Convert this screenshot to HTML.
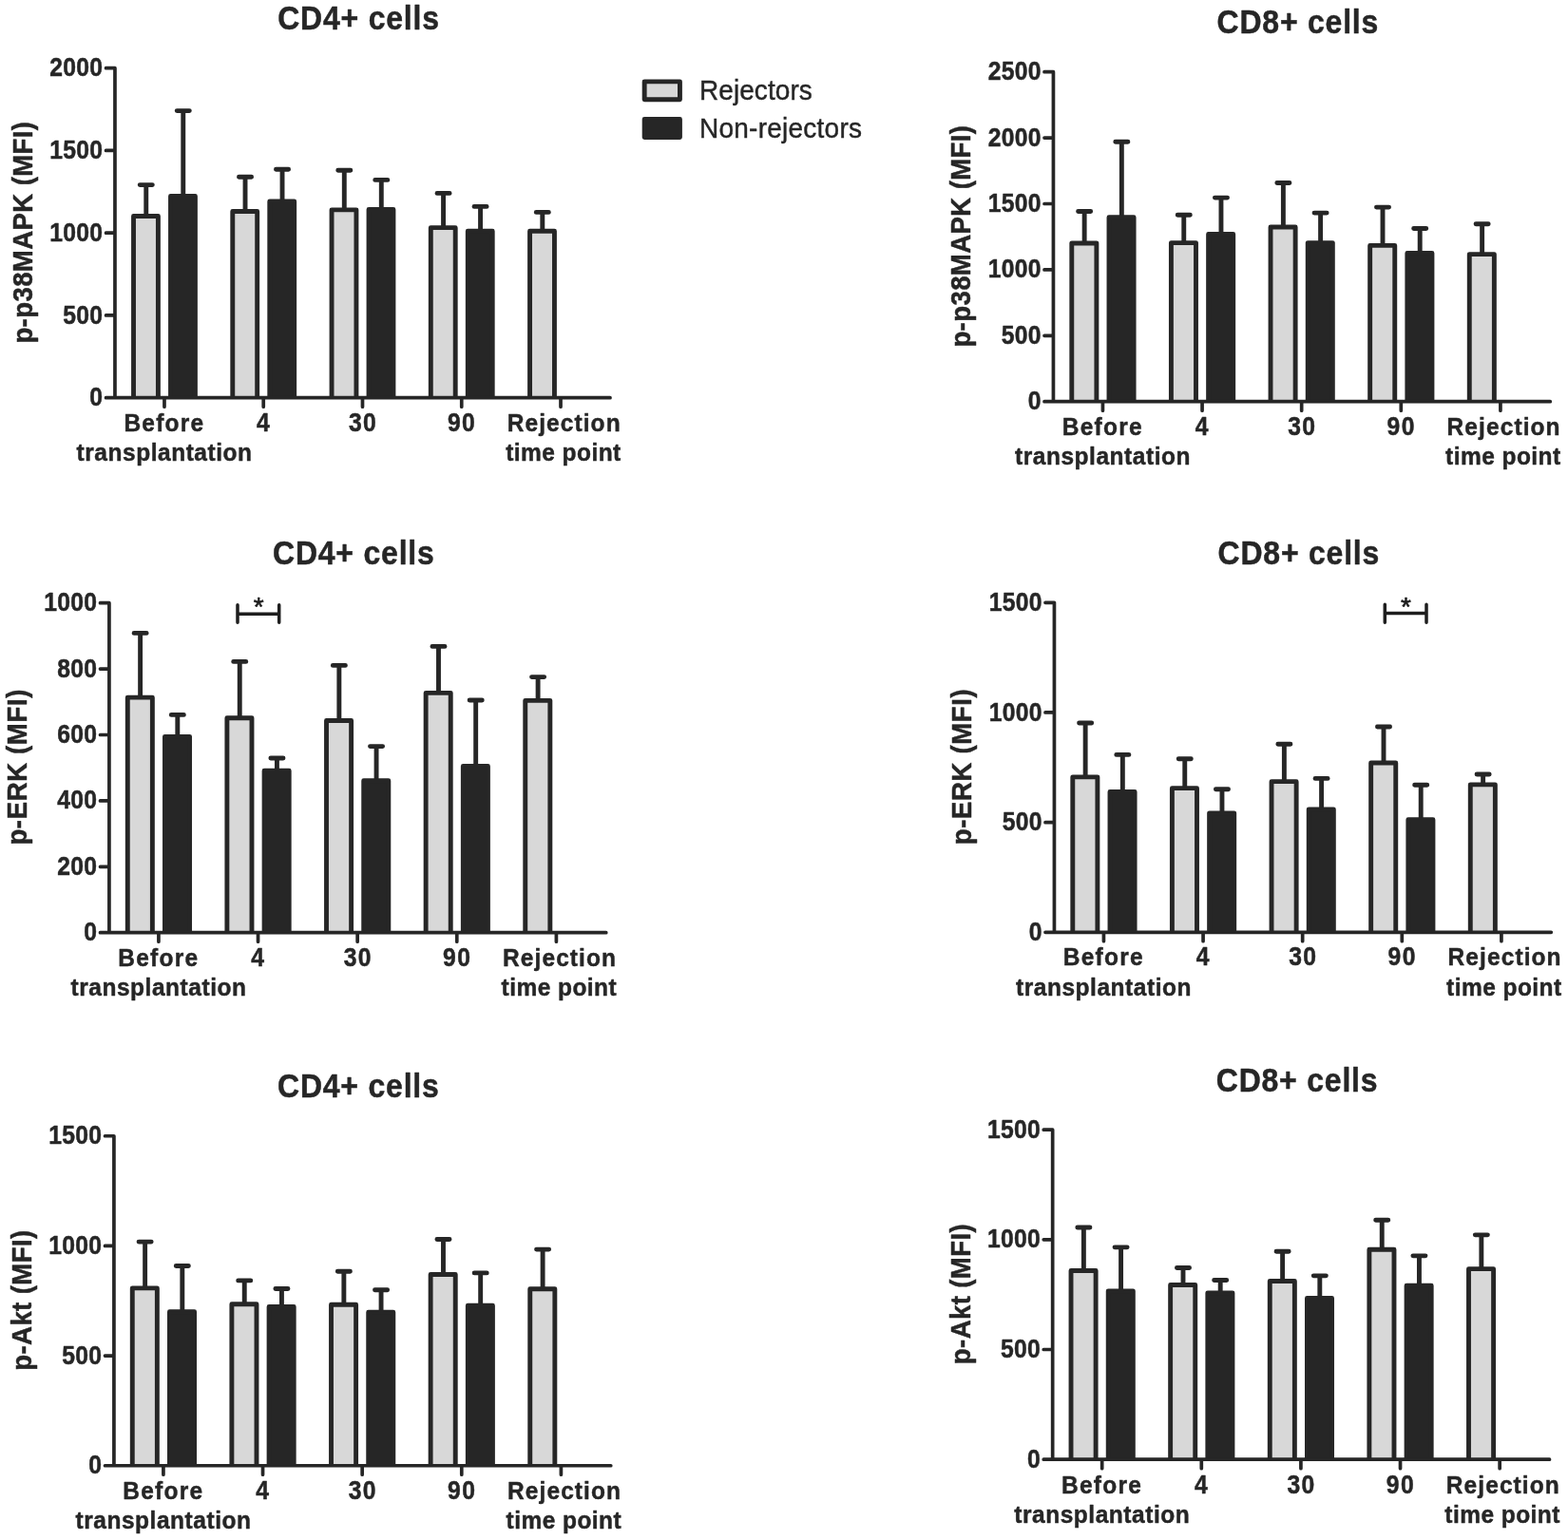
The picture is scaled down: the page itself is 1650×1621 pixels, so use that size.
<!DOCTYPE html>
<html lang="en">
<head>
<meta charset="utf-8">
<title>MAPK and Akt phosphorylation in CD4+ and CD8+ cells</title>
<style>
html,body{margin:0;padding:0;background:#fff;}
body{width:1650px;height:1621px;overflow:hidden;}
svg{display:block;}
text{font-family:'Liberation Sans', sans-serif;fill:#262626;font-kerning:none;font-variant-ligatures:none;white-space:pre;}
.t,.yl,.yt,.xt{stroke:#262626;stroke-width:0.45px;stroke-linejoin:round;}
.t{font-weight:bold;}
.yl{font-weight:bold;}
.yt{font-weight:bold;}
.xt{font-weight:bold;}
.lg{stroke:#262626;stroke-width:0.4px;}
.st{font-size:28px;text-anchor:middle;fill:#1c1c1c;stroke:#1c1c1c;stroke-width:0.6px;stroke-linejoin:round;}
.a{fill:none;stroke:#262626;stroke-width:3.7;stroke-linecap:round;stroke-linejoin:round;}
.b{stroke:#262626;stroke-width:4.9;stroke-linejoin:round;}
.e{fill:none;stroke:#262626;stroke-width:4.9;stroke-linecap:round;}
.br{fill:none;stroke:#1e1e1e;stroke-width:3.5;stroke-linecap:round;}
</style>
</head>
<body>
<svg width="1650" height="1621" viewBox="0 0 1650 1621">
<rect width="1650" height="1621" fill="#ffffff"/>
<g id="c1">
<text class="t" font-size="32" transform="translate(292.16 31.29) scale(1 1.075)" style="letter-spacing:0.78px">CD4+ cells</text>
<text class="yl" font-size="27.6" transform="translate(33.97 361.62) rotate(-90) scale(1 1.1)" style="letter-spacing:0.38px">p-p38MAPK (MFI)</text>
<path class="e" d="M153.77 227V194.6M147.22 194.6H160.32"/>
<path class="b" d="M140.52 418.69V227.45H166.42V418.69" fill="#d8d8d8"/>
<path class="e" d="M192.77 206V116.6M186.22 116.6H199.32"/>
<path class="b" d="M179.52 418.69V206.45H205.42V418.69" fill="#262626"/>
<path class="e" d="M258.03 222V186.2M251.48 186.2H264.58"/>
<path class="b" d="M244.78 418.69V222.45H270.68V418.69" fill="#d8d8d8"/>
<path class="e" d="M297.03 211.6V178.2M290.48 178.2H303.58"/>
<path class="b" d="M283.78 418.69V212.05H309.68V418.69" fill="#262626"/>
<path class="e" d="M362.29 220.4V179.2M355.74 179.2H368.84"/>
<path class="b" d="M349.04 418.69V220.85H374.94V418.69" fill="#d8d8d8"/>
<path class="e" d="M401.29 220V189.4M394.74 189.4H407.84"/>
<path class="b" d="M388.04 418.69V220.45H413.94V418.69" fill="#262626"/>
<path class="e" d="M466.55 239.2V203.4M460 203.4H473.1"/>
<path class="b" d="M453.3 418.69V239.65H479.2V418.69" fill="#d8d8d8"/>
<path class="e" d="M505.55 242.8V217.4M499 217.4H512.1"/>
<path class="b" d="M492.3 418.69V243.25H518.2V418.69" fill="#262626"/>
<path class="e" d="M570.81 242.8V223.4M564.26 223.4H577.36"/>
<path class="b" d="M557.56 418.69V243.25H583.46V418.69" fill="#d8d8d8"/>
<path class="a" d="M120.97 71.69V418.69M111.52 418.69H642.02M111.52 331.94H120.97M111.52 245.19H120.97M111.52 158.44H120.97M111.52 71.69H120.97M172.97 418.69V428.14M277.23 418.69V428.14M381.49 418.69V428.14M485.75 418.69V428.14M590.01 418.69V428.14"/>
<text class="yt" font-size="24.7" transform="translate(94.3 427.29) scale(1 1.1)" style="letter-spacing:0.3px">0</text>
<text class="yt" font-size="24.7" transform="translate(66.22 340.54) scale(1 1.1)" style="letter-spacing:0.3px">500</text>
<text class="yt" font-size="24.7" transform="translate(52.19 253.79) scale(1 1.1)" style="letter-spacing:0.3px">1000</text>
<text class="yt" font-size="24.7" transform="translate(52.19 167.04) scale(1 1.1)" style="letter-spacing:0.3px">1500</text>
<text class="yt" font-size="24.7" transform="translate(52.19 80.29) scale(1 1.1)" style="letter-spacing:0.3px">2000</text>
<text class="xt" font-size="24.5" transform="translate(130.38 453.84) scale(1 1.04)" style="letter-spacing:1.22px">Before</text>
<text class="xt" font-size="24.5" transform="translate(80.57 484.99) scale(1 1.02)" style="letter-spacing:0.54px">transplantation</text>
<text class="xt" font-size="24.7" transform="translate(269.96 453.84) scale(1 1.11)">4</text>
<text class="xt" font-size="24.7" transform="translate(367.12 453.84) scale(1 1.11)" style="letter-spacing:1.21px">30</text>
<text class="xt" font-size="24.7" transform="translate(470.89 453.84) scale(1 1.11)" style="letter-spacing:1.5px">90</text>
<text class="xt" font-size="24.5" transform="translate(533.67 453.84) scale(1 1.04)" style="letter-spacing:1.09px">Rejection</text>
<text class="xt" font-size="24.5" transform="translate(532.21 484.99) scale(1 1.02)" style="letter-spacing:0.45px">time point</text>
</g>
<g id="c2">
<text class="t" font-size="32" transform="translate(1280.53 35.29) scale(1 1.075)" style="letter-spacing:0.78px">CD8+ cells</text>
<text class="yl" font-size="27.6" transform="translate(1021.44 365.62) rotate(-90) scale(1 1.1)" style="letter-spacing:0.38px">p-p38MAPK (MFI)</text>
<path class="e" d="M1141.14 255.55V222.5M1134.59 222.5H1147.69"/>
<path class="b" d="M1127.79 422.69V256H1153.89V422.69" fill="#d8d8d8"/>
<path class="e" d="M1180.34 228.35V149.3M1173.79 149.3H1186.89"/>
<path class="b" d="M1166.99 422.69V228.8H1193.09V422.69" fill="#262626"/>
<path class="e" d="M1245.76 255.15V226.3M1239.21 226.3H1252.31"/>
<path class="b" d="M1232.41 422.69V255.6H1258.51V422.69" fill="#d8d8d8"/>
<path class="e" d="M1284.96 245.95V208.1M1278.41 208.1H1291.51"/>
<path class="b" d="M1271.61 422.69V246.4H1297.71V422.69" fill="#262626"/>
<path class="e" d="M1350.38 238.55V192.5M1343.83 192.5H1356.93"/>
<path class="b" d="M1337.03 422.69V239H1363.13V422.69" fill="#d8d8d8"/>
<path class="e" d="M1389.58 255.15V224.1M1383.03 224.1H1396.13"/>
<path class="b" d="M1376.23 422.69V255.6H1402.33V422.69" fill="#262626"/>
<path class="e" d="M1455 257.95V218.1M1448.45 218.1H1461.55"/>
<path class="b" d="M1441.65 422.69V258.4H1467.75V422.69" fill="#d8d8d8"/>
<path class="e" d="M1494.2 265.95V240.5M1487.65 240.5H1500.75"/>
<path class="b" d="M1480.85 422.69V266.4H1506.95V422.69" fill="#262626"/>
<path class="e" d="M1559.62 267.15V235.7M1553.07 235.7H1566.17"/>
<path class="b" d="M1546.27 422.69V267.6H1572.37V422.69" fill="#d8d8d8"/>
<path class="a" d="M1108.44 75.69V422.69M1098.99 422.69H1631.29M1098.99 353.29H1108.44M1098.99 283.89H1108.44M1098.99 214.49H1108.44M1098.99 145.09H1108.44M1098.99 75.69H1108.44M1160.44 422.69V432.14M1265.06 422.69V432.14M1369.68 422.69V432.14M1474.3 422.69V432.14M1578.92 422.69V432.14"/>
<text class="yt" font-size="24.7" transform="translate(1081.77 431.29) scale(1 1.1)" style="letter-spacing:0.3px">0</text>
<text class="yt" font-size="24.7" transform="translate(1053.69 361.89) scale(1 1.1)" style="letter-spacing:0.3px">500</text>
<text class="yt" font-size="24.7" transform="translate(1039.66 292.49) scale(1 1.1)" style="letter-spacing:0.3px">1000</text>
<text class="yt" font-size="24.7" transform="translate(1039.66 223.09) scale(1 1.1)" style="letter-spacing:0.3px">1500</text>
<text class="yt" font-size="24.7" transform="translate(1039.66 153.69) scale(1 1.1)" style="letter-spacing:0.3px">2000</text>
<text class="yt" font-size="24.7" transform="translate(1039.66 84.29) scale(1 1.1)" style="letter-spacing:0.3px">2500</text>
<text class="xt" font-size="24.5" transform="translate(1117.85 458.14) scale(1 1.04)" style="letter-spacing:1.22px">Before</text>
<text class="xt" font-size="24.5" transform="translate(1068.04 489.29) scale(1 1.02)" style="letter-spacing:0.54px">transplantation</text>
<text class="xt" font-size="24.7" transform="translate(1257.79 458.14) scale(1 1.11)">4</text>
<text class="xt" font-size="24.7" transform="translate(1355.31 458.14) scale(1 1.11)" style="letter-spacing:1.21px">30</text>
<text class="xt" font-size="24.7" transform="translate(1459.44 458.14) scale(1 1.11)" style="letter-spacing:1.5px">90</text>
<text class="xt" font-size="24.5" transform="translate(1522.58 458.14) scale(1 1.04)" style="letter-spacing:1.09px">Rejection</text>
<text class="xt" font-size="24.5" transform="translate(1521.12 489.29) scale(1 1.02)" style="letter-spacing:0.45px">time point</text>
</g>
<g id="c3">
<text class="t" font-size="32" transform="translate(287.01 594.29) scale(1 1.075)" style="letter-spacing:0.78px">CD4+ cells</text>
<text class="yl" font-size="27.6" transform="translate(27.92 889.61) rotate(-90) scale(1 1.1)" style="letter-spacing:0.62px">p-ERK (MFI)</text>
<path class="e" d="M147.62 733.7V666.4M141.07 666.4H154.17"/>
<path class="b" d="M134.27 981.69V734.15H160.37V981.69" fill="#d8d8d8"/>
<path class="e" d="M186.82 774.9V752.4M180.27 752.4H193.37"/>
<path class="b" d="M173.47 981.69V775.35H199.57V981.69" fill="#262626"/>
<path class="e" d="M252.24 755.3V696.4M245.69 696.4H258.79"/>
<path class="b" d="M238.89 981.69V755.75H264.99V981.69" fill="#d8d8d8"/>
<path class="e" d="M291.44 810.7V798M284.89 798H297.99"/>
<path class="b" d="M278.09 981.69V811.15H304.19V981.69" fill="#262626"/>
<path class="e" d="M356.86 758.1V700.4M350.31 700.4H363.41"/>
<path class="b" d="M343.51 981.69V758.55H369.61V981.69" fill="#d8d8d8"/>
<path class="e" d="M396.06 821.3V785.6M389.51 785.6H402.61"/>
<path class="b" d="M382.71 981.69V821.75H408.81V981.69" fill="#262626"/>
<path class="e" d="M461.48 728.9V680.4M454.93 680.4H468.03"/>
<path class="b" d="M448.13 981.69V729.35H474.23V981.69" fill="#d8d8d8"/>
<path class="e" d="M500.68 806.1V737M494.13 737H507.23"/>
<path class="b" d="M487.33 981.69V806.55H513.43V981.69" fill="#262626"/>
<path class="e" d="M566.1 736.9V712.6M559.55 712.6H572.65"/>
<path class="b" d="M552.75 981.69V737.35H578.85V981.69" fill="#d8d8d8"/>
<path class="a" d="M114.92 634.69V981.69M105.47 981.69H637.77M105.47 912.29H114.92M105.47 842.89H114.92M105.47 773.49H114.92M105.47 704.09H114.92M105.47 634.69H114.92M166.92 981.69V991.14M271.54 981.69V991.14M376.16 981.69V991.14M480.78 981.69V991.14M585.4 981.69V991.14"/>
<text class="yt" font-size="24.7" transform="translate(88.25 990.29) scale(1 1.1)" style="letter-spacing:0.3px">0</text>
<text class="yt" font-size="24.7" transform="translate(60.17 920.89) scale(1 1.1)" style="letter-spacing:0.3px">200</text>
<text class="yt" font-size="24.7" transform="translate(60.17 851.49) scale(1 1.1)" style="letter-spacing:0.3px">400</text>
<text class="yt" font-size="24.7" transform="translate(60.17 782.09) scale(1 1.1)" style="letter-spacing:0.3px">600</text>
<text class="yt" font-size="24.7" transform="translate(60.17 712.69) scale(1 1.1)" style="letter-spacing:0.3px">800</text>
<text class="yt" font-size="24.7" transform="translate(46.14 643.29) scale(1 1.1)" style="letter-spacing:0.3px">1000</text>
<text class="xt" font-size="24.5" transform="translate(124.33 1016.84) scale(1 1.04)" style="letter-spacing:1.22px">Before</text>
<text class="xt" font-size="24.5" transform="translate(74.52 1047.99) scale(1 1.02)" style="letter-spacing:0.54px">transplantation</text>
<text class="xt" font-size="24.7" transform="translate(264.27 1016.84) scale(1 1.11)">4</text>
<text class="xt" font-size="24.7" transform="translate(361.79 1016.84) scale(1 1.11)" style="letter-spacing:1.21px">30</text>
<text class="xt" font-size="24.7" transform="translate(465.92 1016.84) scale(1 1.11)" style="letter-spacing:1.5px">90</text>
<text class="xt" font-size="24.5" transform="translate(529.06 1016.84) scale(1 1.04)" style="letter-spacing:1.09px">Rejection</text>
<text class="xt" font-size="24.5" transform="translate(527.6 1047.99) scale(1 1.02)" style="letter-spacing:0.45px">time point</text>
<path class="br" d="M250 636.65V655.35M293.7 636.65V655.35M250 646.2H293.7"/>
<text class="st" x="272.15" y="647.95">*</text>
</g>
<g id="c4">
<text class="t" font-size="32" transform="translate(1281.53 593.9) scale(1 1.075)" style="letter-spacing:0.78px">CD8+ cells</text>
<text class="yl" font-size="27.6" transform="translate(1022.44 889.22) rotate(-90) scale(1 1.1)" style="letter-spacing:0.62px">p-ERK (MFI)</text>
<path class="e" d="M1142.14 817.4V761M1135.59 761H1148.69"/>
<path class="b" d="M1128.79 981.3V817.85H1154.89V981.3" fill="#d8d8d8"/>
<path class="e" d="M1181.34 833V794.4M1174.79 794.4H1187.89"/>
<path class="b" d="M1167.99 981.3V833.45H1194.09V981.3" fill="#262626"/>
<path class="e" d="M1246.76 829.2V798.8M1240.21 798.8H1253.31"/>
<path class="b" d="M1233.41 981.3V829.65H1259.51V981.3" fill="#d8d8d8"/>
<path class="e" d="M1285.96 855.4V830.8M1279.41 830.8H1292.51"/>
<path class="b" d="M1272.61 981.3V855.85H1298.71V981.3" fill="#262626"/>
<path class="e" d="M1351.38 822.2V783.2M1344.83 783.2H1357.93"/>
<path class="b" d="M1338.03 981.3V822.65H1364.13V981.3" fill="#d8d8d8"/>
<path class="e" d="M1390.58 851.4V819.4M1384.03 819.4H1397.13"/>
<path class="b" d="M1377.23 981.3V851.85H1403.33V981.3" fill="#262626"/>
<path class="e" d="M1456 802.6V765M1449.45 765H1462.55"/>
<path class="b" d="M1442.65 981.3V803.05H1468.75V981.3" fill="#d8d8d8"/>
<path class="e" d="M1495.2 862.2V826.2M1488.65 826.2H1501.75"/>
<path class="b" d="M1481.85 981.3V862.65H1507.95V981.3" fill="#262626"/>
<path class="e" d="M1560.62 825.4V815M1554.07 815H1567.17"/>
<path class="b" d="M1547.27 981.3V825.85H1573.37V981.3" fill="#d8d8d8"/>
<path class="a" d="M1109.44 634.3V981.3M1099.99 981.3H1632.29M1099.99 865.63H1109.44M1099.99 749.97H1109.44M1099.99 634.3H1109.44M1161.44 981.3V990.75M1266.06 981.3V990.75M1370.68 981.3V990.75M1475.3 981.3V990.75M1579.92 981.3V990.75"/>
<text class="yt" font-size="24.7" transform="translate(1082.77 989.9) scale(1 1.1)" style="letter-spacing:0.3px">0</text>
<text class="yt" font-size="24.7" transform="translate(1054.69 874.23) scale(1 1.1)" style="letter-spacing:0.3px">500</text>
<text class="yt" font-size="24.7" transform="translate(1040.66 758.57) scale(1 1.1)" style="letter-spacing:0.3px">1000</text>
<text class="yt" font-size="24.7" transform="translate(1040.66 642.9) scale(1 1.1)" style="letter-spacing:0.3px">1500</text>
<text class="xt" font-size="24.5" transform="translate(1118.85 1016.45) scale(1 1.04)" style="letter-spacing:1.22px">Before</text>
<text class="xt" font-size="24.5" transform="translate(1069.04 1047.6) scale(1 1.02)" style="letter-spacing:0.54px">transplantation</text>
<text class="xt" font-size="24.7" transform="translate(1258.79 1016.45) scale(1 1.11)">4</text>
<text class="xt" font-size="24.7" transform="translate(1356.31 1016.45) scale(1 1.11)" style="letter-spacing:1.21px">30</text>
<text class="xt" font-size="24.7" transform="translate(1460.44 1016.45) scale(1 1.11)" style="letter-spacing:1.5px">90</text>
<text class="xt" font-size="24.5" transform="translate(1523.58 1016.45) scale(1 1.04)" style="letter-spacing:1.09px">Rejection</text>
<text class="xt" font-size="24.5" transform="translate(1522.12 1047.6) scale(1 1.02)" style="letter-spacing:0.45px">time point</text>
<path class="br" d="M1457.3 636.15V655.15M1501 636.15V655.15M1457.3 645.6H1501"/>
<text class="st" x="1479.55" y="647.55">*</text>
</g>
<g id="c5">
<text class="t" font-size="32" transform="translate(292.01 1155.35) scale(1 1.075)" style="letter-spacing:0.78px">CD4+ cells</text>
<text class="yl" font-size="27.6" transform="translate(32.92 1442.72) rotate(-90) scale(1 1.1)" style="letter-spacing:0.38px">p-Akt (MFI)</text>
<path class="e" d="M152.62 1355.45V1307.1M146.07 1307.1H159.17"/>
<path class="b" d="M139.27 1542.75V1355.9H165.37V1542.75" fill="#d8d8d8"/>
<path class="e" d="M191.82 1380.25V1332.5M185.27 1332.5H198.37"/>
<path class="b" d="M178.47 1542.75V1380.7H204.57V1542.75" fill="#262626"/>
<path class="e" d="M257.24 1372.25V1347.9M250.69 1347.9H263.79"/>
<path class="b" d="M243.89 1542.75V1372.7H269.99V1542.75" fill="#d8d8d8"/>
<path class="e" d="M296.44 1375.05V1356.5M289.89 1356.5H302.99"/>
<path class="b" d="M283.09 1542.75V1375.5H309.19V1542.75" fill="#262626"/>
<path class="e" d="M361.86 1372.85V1338.3M355.31 1338.3H368.41"/>
<path class="b" d="M348.51 1542.75V1373.3H374.61V1542.75" fill="#d8d8d8"/>
<path class="e" d="M401.06 1380.85V1357.7M394.51 1357.7H407.61"/>
<path class="b" d="M387.71 1542.75V1381.3H413.81V1542.75" fill="#262626"/>
<path class="e" d="M466.48 1341.05V1304.5M459.93 1304.5H473.03"/>
<path class="b" d="M453.13 1542.75V1341.5H479.23V1542.75" fill="#d8d8d8"/>
<path class="e" d="M505.68 1373.85V1339.9M499.13 1339.9H512.23"/>
<path class="b" d="M492.33 1542.75V1374.3H518.43V1542.75" fill="#262626"/>
<path class="e" d="M571.1 1356.25V1315.1M564.55 1315.1H577.65"/>
<path class="b" d="M557.75 1542.75V1356.7H583.85V1542.75" fill="#d8d8d8"/>
<path class="a" d="M119.92 1195.75V1542.75M110.47 1542.75H642.77M110.47 1427.08H119.92M110.47 1311.42H119.92M110.47 1195.75H119.92M171.92 1542.75V1552.2M276.54 1542.75V1552.2M381.16 1542.75V1552.2M485.78 1542.75V1552.2M590.4 1542.75V1552.2"/>
<text class="yt" font-size="24.7" transform="translate(93.25 1551.35) scale(1 1.1)" style="letter-spacing:0.3px">0</text>
<text class="yt" font-size="24.7" transform="translate(65.17 1435.68) scale(1 1.1)" style="letter-spacing:0.3px">500</text>
<text class="yt" font-size="24.7" transform="translate(51.14 1320.02) scale(1 1.1)" style="letter-spacing:0.3px">1000</text>
<text class="yt" font-size="24.7" transform="translate(51.14 1204.35) scale(1 1.1)" style="letter-spacing:0.3px">1500</text>
<text class="xt" font-size="24.5" transform="translate(129.33 1577.9) scale(1 1.04)" style="letter-spacing:1.22px">Before</text>
<text class="xt" font-size="24.5" transform="translate(79.52 1609.05) scale(1 1.02)" style="letter-spacing:0.54px">transplantation</text>
<text class="xt" font-size="24.7" transform="translate(269.27 1577.9) scale(1 1.11)">4</text>
<text class="xt" font-size="24.7" transform="translate(366.79 1577.9) scale(1 1.11)" style="letter-spacing:1.21px">30</text>
<text class="xt" font-size="24.7" transform="translate(470.92 1577.9) scale(1 1.11)" style="letter-spacing:1.5px">90</text>
<text class="xt" font-size="24.5" transform="translate(534.06 1577.9) scale(1 1.04)" style="letter-spacing:1.09px">Rejection</text>
<text class="xt" font-size="24.5" transform="translate(532.6 1609.05) scale(1 1.02)" style="letter-spacing:0.45px">time point</text>
</g>
<g id="c6">
<text class="t" font-size="32" transform="translate(1279.76 1148.79) scale(1 1.075)" style="letter-spacing:0.78px">CD8+ cells</text>
<text class="yl" font-size="27.6" transform="translate(1020.67 1436.16) rotate(-90) scale(1 1.1)" style="letter-spacing:0.38px">p-Akt (MFI)</text>
<path class="e" d="M1140.37 1337V1292.05M1133.82 1292.05H1146.92"/>
<path class="b" d="M1127.02 1536.19V1337.45H1153.12V1536.19" fill="#d8d8d8"/>
<path class="e" d="M1179.57 1358.4V1312.85M1173.02 1312.85H1186.12"/>
<path class="b" d="M1166.22 1536.19V1358.85H1192.32V1536.19" fill="#262626"/>
<path class="e" d="M1244.99 1352V1334.45M1238.44 1334.45H1251.54"/>
<path class="b" d="M1231.64 1536.19V1352.45H1257.74V1536.19" fill="#d8d8d8"/>
<path class="e" d="M1284.19 1360.4V1347.45M1277.64 1347.45H1290.74"/>
<path class="b" d="M1270.84 1536.19V1360.85H1296.94V1536.19" fill="#262626"/>
<path class="e" d="M1349.61 1348V1317.25M1343.06 1317.25H1356.16"/>
<path class="b" d="M1336.26 1536.19V1348.45H1362.36V1536.19" fill="#d8d8d8"/>
<path class="e" d="M1388.81 1366V1342.85M1382.26 1342.85H1395.36"/>
<path class="b" d="M1375.46 1536.19V1366.45H1401.56V1536.19" fill="#262626"/>
<path class="e" d="M1454.23 1314.8V1284.25M1447.68 1284.25H1460.78"/>
<path class="b" d="M1440.88 1536.19V1315.25H1466.98V1536.19" fill="#d8d8d8"/>
<path class="e" d="M1493.43 1352.8V1321.85M1486.88 1321.85H1499.98"/>
<path class="b" d="M1480.08 1536.19V1353.25H1506.18V1536.19" fill="#262626"/>
<path class="e" d="M1558.85 1335.2V1299.85M1552.3 1299.85H1565.4"/>
<path class="b" d="M1545.5 1536.19V1335.65H1571.6V1536.19" fill="#d8d8d8"/>
<path class="a" d="M1107.67 1189.19V1536.19M1098.22 1536.19H1630.52M1098.22 1420.52H1107.67M1098.22 1304.86H1107.67M1098.22 1189.19H1107.67M1159.67 1536.19V1545.64M1264.29 1536.19V1545.64M1368.91 1536.19V1545.64M1473.53 1536.19V1545.64M1578.15 1536.19V1545.64"/>
<text class="yt" font-size="24.7" transform="translate(1081 1544.79) scale(1 1.1)" style="letter-spacing:0.3px">0</text>
<text class="yt" font-size="24.7" transform="translate(1052.92 1429.12) scale(1 1.1)" style="letter-spacing:0.3px">500</text>
<text class="yt" font-size="24.7" transform="translate(1038.89 1313.46) scale(1 1.1)" style="letter-spacing:0.3px">1000</text>
<text class="yt" font-size="24.7" transform="translate(1038.89 1197.79) scale(1 1.1)" style="letter-spacing:0.3px">1500</text>
<text class="xt" font-size="24.5" transform="translate(1117.08 1571.64) scale(1 1.04)" style="letter-spacing:1.22px">Before</text>
<text class="xt" font-size="24.5" transform="translate(1067.27 1602.79) scale(1 1.02)" style="letter-spacing:0.54px">transplantation</text>
<text class="xt" font-size="24.7" transform="translate(1257.02 1571.64) scale(1 1.11)">4</text>
<text class="xt" font-size="24.7" transform="translate(1354.54 1571.64) scale(1 1.11)" style="letter-spacing:1.21px">30</text>
<text class="xt" font-size="24.7" transform="translate(1458.67 1571.64) scale(1 1.11)" style="letter-spacing:1.5px">90</text>
<text class="xt" font-size="24.5" transform="translate(1521.81 1571.64) scale(1 1.04)" style="letter-spacing:1.09px">Rejection</text>
<text class="xt" font-size="24.5" transform="translate(1520.35 1602.79) scale(1 1.02)" style="letter-spacing:0.45px">time point</text>
</g>
<g id="legend">
<rect class="b" x="678.15" y="85.85" width="37.3" height="18.9" fill="#d8d8d8" style="stroke-width:4.9"/>
<rect class="b" x="678.15" y="125.55" width="37.3" height="18.9" fill="#262626" style="stroke-width:4.9"/>
<text class="lg" font-size="28" transform="translate(736 104.7) scale(1 1.035)" style="letter-spacing:0.07px">Rejectors</text>
<text class="lg" font-size="28" transform="translate(736 144.5) scale(1 1.035)" style="letter-spacing:0.25px">Non-rejectors</text>
</g>
</svg>
</body>
</html>
